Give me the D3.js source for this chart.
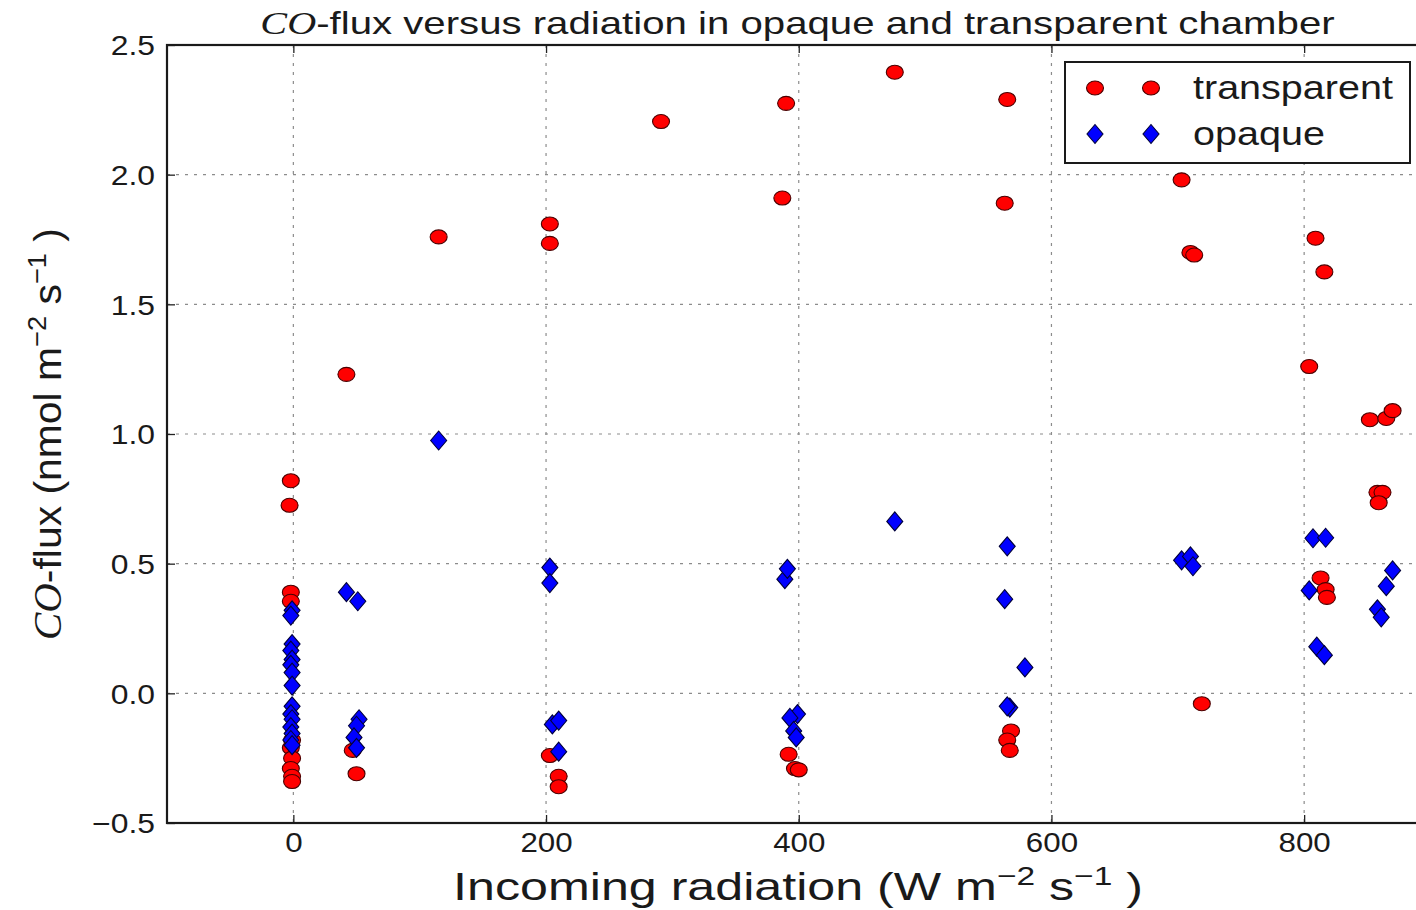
<!DOCTYPE html>
<html>
<head>
<meta charset="utf-8">
<script src="https://cdn.jsdelivr.net/npm/d3@7"></script>
<style>
  html, body { margin: 0; padding: 0; background: #fff; }
  svg { display: block; }
  text { font-family: "Liberation Sans", Arial, sans-serif; fill: #1a1a1a; }
</style>
</head>
<body>
<svg id="chart" width="1416" height="910"></svg>
<script>
// CO flux measured under the transparent chamber: [radiation, flux]
const transparentX = [-2, -3, -2, -2, -1, -2, -1, -2, -1, -1,
  42, 47, 50, 115, 203, 203, 203, 210, 210,
  291, 390, 387, 392, 397, 400,
  476, 565, 563, 568, 565, 567,
  703, 710, 713, 719,
  809, 816, 804, 852, 865, 870, 858, 862, 859, 813, 817, 818];
const transparentY = [0.82, 0.725, 0.39, 0.355, -0.18, -0.21, -0.25, -0.29, -0.32, -0.34,
  1.23, -0.22, -0.31, 1.76, 1.81, 1.735, -0.24, -0.32, -0.36,
  2.205, 2.275, 1.91, -0.235, -0.29, -0.295,
  2.395, 2.29, 1.89, -0.145, -0.18, -0.22,
  1.98, 1.70, 1.69, -0.04,
  1.755, 1.625, 1.26, 1.055, 1.06, 1.09, 0.775, 0.775, 0.735, 0.445, 0.40, 0.37];

// CO flux measured under the opaque chamber: [radiation, flux]
const opaqueX = [-1, -2, -1, -2, -1, -2, -1, -1, -1, -2, -1, -2, -1, -2, -1,
  42, 51, 52, 50, 48, 50,
  115, 203, 203, 205, 210, 210,
  389, 391, 399, 393, 396, 398,
  476, 565, 563, 579, 567, 565,
  703, 710, 712,
  807, 817, 804, 810, 816, 870, 865, 858, 861];
const opaqueY = [0.32, 0.30, 0.19, 0.165, 0.13, 0.11, 0.08, 0.03, -0.05, -0.08, -0.10, -0.13, -0.155, -0.18, -0.20,
  0.39, 0.355, -0.10, -0.125, -0.17, -0.21,
  0.975, 0.485, 0.425, -0.12, -0.105, -0.225,
  0.44, 0.48, -0.08, -0.095, -0.145, -0.17,
  0.663, 0.567, 0.363, 0.10, -0.055, -0.05,
  0.513, 0.528, 0.49,
  0.598, 0.60, 0.397, 0.18, 0.147, 0.474, 0.413, 0.324, 0.293];

const xTicks = [0, 200, 400, 600, 800];
const yTicks = [-0.5, 0.0, 0.5, 1.0, 1.5, 2.0, 2.5];
const seriesNames = ["transparent", "opaque"];
const seriesColors = ["#ff0000", "#0000ff"];

const svg = d3.select("#chart");

const plot = { left: 167, top: 45, bottom: 823 };
const pxPerUnit = 1.2635;
const x = d3.scaleLinear().domain([-100, 900]).range([plot.left, plot.left + 1000 * pxPerUnit]);
const y = d3.scaleLinear().domain([-0.5, 2.5]).range([plot.bottom, plot.top]);
const plotRight = x(900);

// stretch a text element horizontally so its ink spans [x0, x1]
function fitX(sel, x0, x1) {
  const bb = sel.node().getBBox();
  const s = (x1 - x0) / bb.width;
  sel.attr("transform", `translate(${x0},0) scale(${s},1) translate(${-bb.x},0)`);
}

// grid
const grid = svg.append("g").attr("stroke", "#8c8c8c").attr("stroke-width", 1.2)
  .attr("stroke-dasharray", "3,6");
grid.selectAll(".gx").data(xTicks).join("line")
  .attr("x1", d => x(d)).attr("x2", d => x(d))
  .attr("y1", plot.top).attr("y2", plot.bottom);
grid.selectAll(".gy").data(yTicks.slice(1, -1)).join("line")
  .attr("x1", plot.left).attr("x2", plotRight)
  .attr("y1", d => y(d)).attr("y2", d => y(d));

// axes with inward ticks
const axB = svg.append("g").attr("transform", `translate(0,${plot.bottom})`)
  .call(d3.axisBottom(x).tickValues(xTicks).tickSize(-8).tickPadding(10).tickFormat(d3.format("d")));
const axT = svg.append("g").attr("transform", `translate(0,${plot.top})`)
  .call(d3.axisTop(x).tickValues(xTicks).tickSize(-8).tickFormat(""));
const axL = svg.append("g").attr("transform", `translate(${plot.left},0)`)
  .call(d3.axisLeft(y).tickValues(yTicks).tickSize(-8).tickPadding(12).tickFormat(d3.format(".1f")));
[axB, axT, axL].forEach(a => {
  a.select(".domain").remove();
  a.selectAll(".tick line").attr("stroke", "#222").attr("stroke-width", 1.3);
  a.selectAll(".tick text").attr("font-size", 27).attr("fill", "#222")
    .attr("font-family", "Liberation Sans, Arial, sans-serif");
});
axL.selectAll(".tick text").text(d => d < 0 ? "\u22120.5" : d3.format(".1f")(d))
  .attr("dy", "0.36em")
  .attr("transform", "scale(1.18,1)").attr("x", -12 / 1.18);
axB.selectAll(".tick text").attr("dy", "0.71em").attr("transform", "scale(1.16,1)");

// frame
svg.append("rect").attr("x", plot.left).attr("y", plot.top)
  .attr("width", plotRight - plot.left).attr("height", plot.bottom - plot.top)
  .attr("fill", "none").attr("stroke", "#1a1a1a").attr("stroke-width", 2.2);

// markers
const diamond = (cx, cy, w, h) => `M${cx},${cy - h}L${cx + w},${cy}L${cx},${cy + h}L${cx - w},${cy}Z`;
const tData = transparentX.map((v, i) => ({ x: v, y: transparentY[i] }));
const oData = opaqueX.map((v, i) => ({ x: v, y: opaqueY[i] }));

svg.append("g").selectAll("ellipse").data(tData).join("ellipse")
  .attr("cx", d => x(d.x)).attr("cy", d => y(d.y))
  .attr("rx", 8.5).attr("ry", 7)
  .attr("fill", seriesColors[0]).attr("stroke", "#4a0000").attr("stroke-width", 1.1);
svg.append("g").selectAll("path").data(oData).join("path")
  .attr("d", d => diamond(x(d.x), y(d.y), 8, 9.5))
  .attr("fill", seriesColors[1]).attr("stroke", "#00003a").attr("stroke-width", 1.1);

// legend
const lg = svg.append("g");
lg.append("rect").attr("x", 1065).attr("y", 62).attr("width", 345).attr("height", 101)
  .attr("fill", "#fff").attr("stroke", "#1a1a1a").attr("stroke-width", 2);
[0, 1].forEach(i => {
  const cy = 88 + i * 46;
  [1095, 1151].forEach(cx => {
    if (i === 0) {
      lg.append("ellipse").attr("cx", cx).attr("cy", cy).attr("rx", 8.5).attr("ry", 7)
        .attr("fill", seriesColors[0]).attr("stroke", "#4a0000").attr("stroke-width", 1.1);
    } else {
      lg.append("path").attr("d", diamond(cx, cy, 8, 9.5))
        .attr("fill", seriesColors[1]).attr("stroke", "#00003a").attr("stroke-width", 1.1);
    }
  });
  const t = lg.append("text").attr("x", 1193).attr("y", cy + 11).attr("font-size", 33)
    .text(seriesNames[i]);
  fitX(t, 1193, i === 0 ? 1393 : 1325);
});

// title
const title = svg.append("text").attr("x", 797).attr("y", 34).attr("font-size", 31)
  .attr("text-anchor", "middle");
title.append("tspan").attr("font-family", "Liberation Serif, serif").attr("font-style", "italic").text("CO");
title.append("tspan").text("-flux versus radiation in opaque and transparent chamber");
fitX(title, 260, 1335);

// x label
const xl = svg.append("text").attr("x", 798).attr("y", 900).attr("font-size", 39)
  .attr("text-anchor", "middle");
xl.append("tspan").text("Incoming radiation (W m");
xl.append("tspan").attr("font-size", 26).attr("dy", -15).text("\u22122");
xl.append("tspan").attr("dy", 15).text(" s");
xl.append("tspan").attr("font-size", 26).attr("dy", -15).text("\u22121");
xl.append("tspan").attr("dy", 15).text(" )");
fitX(xl, 453, 1143);

// y label (rotated)
const ylG = svg.append("g").attr("transform", "translate(61,0) rotate(-90)");
const yl = ylG.append("text").attr("x", -435).attr("y", 0).attr("font-size", 39)
  .attr("text-anchor", "middle");
yl.append("tspan").attr("font-family", "Liberation Serif, serif").attr("font-style", "italic").text("CO");
yl.append("tspan").text("-flux (nmol m");
yl.append("tspan").attr("font-size", 26).attr("dy", -15).text("\u22122");
yl.append("tspan").attr("dy", 15).text(" s");
yl.append("tspan").attr("font-size", 26).attr("dy", -15).text("\u22121");
yl.append("tspan").attr("dy", 15).text(" )");
// in rotated coords, x runs from bottom (-640) to top (-228)
fitX(yl, -640, -228);
</script>
</body>
</html>
